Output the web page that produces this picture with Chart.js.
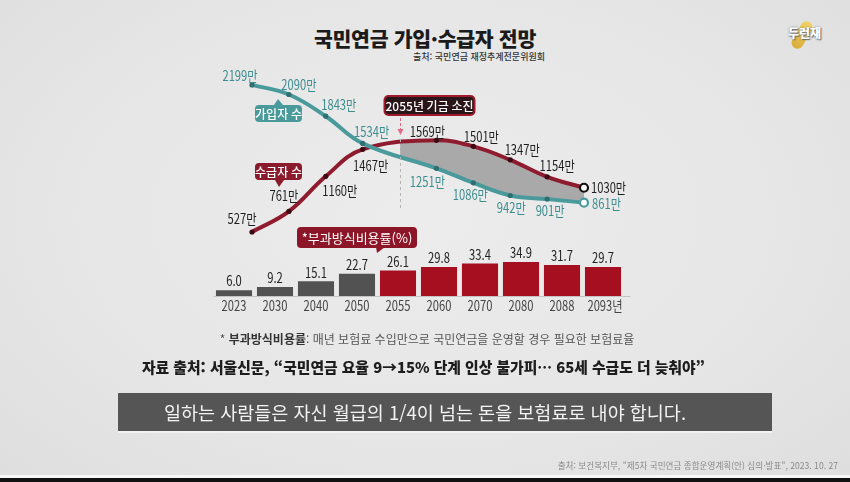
<!DOCTYPE html>
<html lang="ko">
<head>
<meta charset="utf-8">
<script src="https://cdn.jsdelivr.net/npm/chart.js@4"></script>
<style>
  html, body { margin: 0; padding: 0; }
  body {
    width: 850px; height: 482px; position: relative; overflow: hidden;
    background: radial-gradient(ellipse at 50% 45%, #ececec 0%, #e6e6e6 60%, #dedede 100%);
    font-family: 'Noto Sans CJK KR', sans-serif;
  }
  canvas { position: absolute; left: 0; top: 0; }
  .txt { position: absolute; white-space: nowrap; }
  #title { left: 0; width: 850px; top: 23px; text-align: center; font-size: 20.5px; font-weight: 900; color: #1b1b1b; letter-spacing: -0.3px; }
  #src1 { right: 305px; top: 50px; font-size: 9px; color: #333; font-weight: 500; }
  #note { left: 0; width: 854px; top: 330px; text-align: center; font-size: 12px; color: #555; }
  #note b { color: #333; }
  #news { left: 142px; top: 356px; font-size: 14.8px; font-weight: 900; color: #1d1d1d; }
  #bar { position: absolute; left: 118px; width: 654px; top: 393px; height: 38px; background: #555; border-bottom: 2px solid #f2f2f2; }
  #sub { left: 0; width: 850px; top: 399px; text-align: center; font-size: 18.5px; color: #f2f2f2; }
  #src2 { right: 12px; top: 459px; font-size: 8.6px; color: #8a8a8a; }
  #stripe { position: absolute; left: 0; top: 475px; width: 850px; height: 3px; background: #f7f7f7; }
  #foot { position: absolute; left: 0; top: 478px; width: 850px; height: 4px; background: #111; }
  #logo { position: absolute; left: 782px; top: 18px; width: 60px; height: 32px; }
  #logo .brush { position: absolute; left: 14px; top: 2px; width: 12px; height: 30px; background: linear-gradient(#f1d15a, #d9a626); transform: rotate(30deg); border-radius: 6px; opacity: 0.9; }
  #logo .name { position: absolute; left: 6px; top: 6px; font-size: 12px; font-weight: 900; color: #fff; text-shadow: 0 0 2px #777, 1px 1px 1px #666; }
</style>
</head>
<body>
<div id="logo"><div class="brush"></div><div class="name">두런재</div></div>
<div class="txt" id="title">국민연금 가입·수급자 전망</div>
<div class="txt" id="src1">출처: 국민연금 재정추계전문위원회</div>
<canvas id="barChart" width="850" height="482"></canvas>
<canvas id="lineChart" width="850" height="482"></canvas>
<div class="txt" id="note">* <b>부과방식비용률</b>: 매년 보험료 수입만으로 국민연금을 운영할 경우 필요한 보험료율</div>
<div class="txt" id="news">자료 출처: 서울신문, “국민연금 요율 9→15% 단계 인상 불가피… 65세 수급도 더 늦춰야”</div>
<div id="bar"></div>
<div class="txt" id="sub">일하는 사람들은 자신 월급의 1/4이 넘는 돈을 보험료로 내야 합니다.</div>
<div class="txt" id="src2">출처: 보건복지부, "제5차 국민연금 종합운영계획(안) 심의·발표", 2023. 10. 27</div>
<div id="stripe"></div>
<div id="foot"></div>
<script>
// --- dados ---
const years = ['2023', '2030', '2040', '2050', '2055', '2060', '2070', '2080', '2088', '2093'];
const yearLabels = ['2023', '2030', '2040', '2050', '2055', '2060', '2070', '2080', '2088', '2093년'];
const subscribers = [2199, 2090, 1843, 1534, null, 1251, 1086, 942, 901, 861];   // 가입자 수 (만)
const recipients = [527, 761, 1160, 1467, null, 1569, 1501, 1347, 1154, 1030];   // 수급자 수 (만)
const payGoRate = [6.0, 9.2, 15.1, 22.7, 26.1, 29.8, 33.4, 34.9, 31.7, 29.7];    // 부과방식비용률 (%)
const depletionYear = '2055';

// label offsets around each point (style, not data)
const subOffsets = [[-12, -9], [10, -10], [13, -12], [9, -12], null, [-9, 13], [-3, 12], [1, 12], [3, 12], [8, 1]];
const recOffsets = [[-10, -13], [-5, -16], [14, 14], [8, 16], null, [-9, -9], [8, -10], [12, -10], [10, -11], [7, 0]];

const NUM_FONT = "'Noto Sans CJK KR', sans-serif";
const NARROW = 0.8;
const TEAL = '#4a9a9c', TEAL_DARK = '#2f6f71', RED = '#8e1b2e', RED_DARK = '#3d0a13';
const GREY_BAR = '#525252', RED_BAR = '#a50f20';

// condensed text, like the narrow face of the original
function narrowText(ctx, text, x, y, align) {
    ctx.save();
    ctx.translate(x, y);
    ctx.scale(NARROW, 1);
    ctx.textAlign = align || 'center';
    ctx.fillText(text, 0, 0);
    ctx.restore();
}

function roundRect(ctx, x, y, w, h, r) {
    ctx.beginPath();
    ctx.moveTo(x + r, y);
    ctx.arcTo(x + w, y, x + w, y + h, r);
    ctx.arcTo(x + w, y + h, x, y + h, r);
    ctx.arcTo(x, y + h, x, y, r);
    ctx.arcTo(x, y, x + w, y, r);
    ctx.closePath();
}

function callout(ctx, x, y, w, h, text, fill, tip, stroke) {
    roundRect(ctx, x, y, w, h, 4);
    ctx.fillStyle = fill;
    ctx.fill();
    if (stroke) { ctx.strokeStyle = stroke; ctx.lineWidth = 2; ctx.stroke(); }
    if (tip) {
        ctx.beginPath();
        ctx.moveTo(tip[0] - 5, tip[1]);
        ctx.lineTo(tip[2], tip[3]);
        ctx.lineTo(tip[0] + 4, tip[1]);
        ctx.closePath();
        ctx.fillStyle = fill;
        ctx.fill();
    }
    ctx.fillStyle = '#fff';
    ctx.textAlign = 'center';
    ctx.textBaseline = 'middle';
    ctx.fillText(text, x + w / 2, y + h / 2 + 0.5);
}

// --- gráfico de barras ---
const barPlugin = {
    id: 'barDecor',
    afterDatasetsDraw(chart) {
        const ctx = chart.ctx, xs = chart.scales.x, ys = chart.scales.y;
        const area = chart.chartArea;
        ctx.save();
        ctx.strokeStyle = '#c4c4c4';
        ctx.lineWidth = 1;
        ctx.beginPath();
        ctx.moveTo(area.left, ys.getPixelForValue(0) + 0.5);
        ctx.lineTo(area.right + 7, ys.getPixelForValue(0) + 0.5);
        ctx.stroke();

        ctx.font = '14px ' + NUM_FONT;
        ctx.textBaseline = 'middle';
        payGoRate.forEach((v, i) => {
            const x = xs.getPixelForValue(i);
            ctx.fillStyle = '#222';
            narrowText(ctx, v.toFixed(1), x, ys.getPixelForValue(v) - 9);
            ctx.fillStyle = '#444';
            narrowText(ctx, yearLabels[i], x + (i === 9 ? 2 : 0), ys.getPixelForValue(0) + 10);
        });

        ctx.font = '13px "Noto Sans CJK KR", sans-serif';
        const tx = xs.getPixelForValue(years.indexOf(depletionYear)) - 15;
        callout(ctx, 297, 227, 120, 21, '*부과방식비용률(%)', '#8c1628', [tx - 2, 247, tx - 6, 253]);
        ctx.restore();
    }
};

new Chart(document.getElementById('barChart'), {
    type: 'bar',
    data: {
        labels: years,
        datasets: [{
            data: payGoRate,
            backgroundColor: years.map(y => Number(y) >= Number(depletionYear) ? RED_BAR : GREY_BAR),
            barPercentage: 0.88,
            categoryPercentage: 1.0,
            borderWidth: 0
        }]
    },
    options: {
        responsive: false,
        animation: false,
        layout: { padding: { left: 213.5, right: 226.5, top: 257, bottom: 186 } },
        plugins: { legend: { display: false }, tooltip: { enabled: false } },
        scales: {
            x: { display: false },
            y: { display: false, min: 0, max: 40 }
        }
    },
    plugins: [barPlugin]
});

// --- gráfico de linhas ---
function fillGradient(context) {
    const chart = context.chart;
    const area = chart.chartArea;
    if (!area || !chart.scales.x) return 'rgba(0,0,0,0)';
    const xd = chart.scales.x.getPixelForValue(years.indexOf(depletionYear));
    const g = chart.ctx.createLinearGradient(0, 0, chart.width, 0);
    const f = Math.min(Math.max(xd / chart.width, 0), 1);
    g.addColorStop(0, 'rgba(0,0,0,0)');
    g.addColorStop(f, 'rgba(0,0,0,0)');
    g.addColorStop(Math.min(f + 0.0005, 1), '#a9a9a9');
    g.addColorStop(1, '#a9a9a9');
    return g;
}

const lineLabels = {
    id: 'lineDecor',
    afterDatasetsDraw(chart) {
        const ctx = chart.ctx, xs = chart.scales.x, ys = chart.scales.y;
        ctx.save();
        ctx.font = '14px ' + NUM_FONT;
        ctx.textBaseline = 'middle';
        const draw = (vals, offs, color) => {
            vals.forEach((v, i) => {
                if (v === null) return;
                const x = xs.getPixelForValue(i), y = ys.getPixelForValue(v);
                const o = offs[i];
                ctx.fillStyle = color;
                narrowText(ctx, v + '만', x + o[0], y + o[1], i === vals.length - 1 ? 'left' : 'center');
            });
        };
        draw(subscribers, subOffsets, '#3d8c8f');
        draw(recipients, recOffsets, '#1e1e1e');

        // 2055 marker
        const xd = Math.round(xs.getPixelForValue(years.indexOf(depletionYear))) + 0.5;
        ctx.strokeStyle = '#b5b5b5';
        ctx.lineWidth = 1;
        ctx.setLineDash([3, 3]);
        ctx.beginPath();
        ctx.moveTo(xd, 139);
        ctx.lineTo(xd, 208);
        ctx.stroke();
        ctx.strokeStyle = '#e06b86';
        ctx.setLineDash([3, 2]);
        ctx.beginPath();
        ctx.moveTo(xd, 118);
        ctx.lineTo(xd, 130);
        ctx.stroke();
        ctx.setLineDash([]);
        ctx.fillStyle = '#e06b86';
        ctx.beginPath();
        ctx.moveTo(xd - 3, 129);
        ctx.lineTo(xd + 3, 129);
        ctx.lineTo(xd, 135);
        ctx.closePath();
        ctx.fill();

        ctx.font = '500 12px "Noto Sans CJK KR", sans-serif';
        callout(ctx, xd - 16, 96, 90, 19, '2055년 기금 소진', '#2a1618', null, '#9e1a2c');
        callout(ctx, 255, 105, 47, 17, '가입자 수', TEAL, [279, 105, 278, 99]);
        callout(ctx, 255, 163, 47, 17, '수급자 수', '#8a1a2c', [280, 180, 279, 187]);
        ctx.restore();
    }
};

const lastIdx = years.length - 1;
new Chart(document.getElementById('lineChart'), {
    type: 'line',
    data: {
        labels: years,
        datasets: [{
            label: '가입자 수',
            data: subscribers,
            borderColor: TEAL,
            borderWidth: 4,
            tension: 0.4,
            spanGaps: true,
            fill: false,
            pointRadius: years.map((_, i) => i === lastIdx ? 4 : 2.6),
            pointBackgroundColor: years.map((_, i) => i === lastIdx ? '#fff' : TEAL_DARK),
            pointBorderColor: years.map((_, i) => i === lastIdx ? TEAL : TEAL_DARK),
            pointBorderWidth: years.map((_, i) => i === lastIdx ? 2.2 : 0),
            clip: false
        }, {
            label: '수급자 수',
            data: recipients,
            borderColor: RED,
            borderWidth: 4,
            tension: 0.4,
            spanGaps: true,
            fill: { target: 0, below: 'rgba(0,0,0,0)' },
            backgroundColor: fillGradient,
            pointRadius: years.map((_, i) => i === lastIdx ? 4 : 2.6),
            pointBackgroundColor: years.map((_, i) => i === lastIdx ? '#fff' : RED_DARK),
            pointBorderColor: years.map((_, i) => i === lastIdx ? '#111' : RED_DARK),
            pointBorderWidth: years.map((_, i) => i === lastIdx ? 2.2 : 0),
            clip: false
        }]
    },
    options: {
        responsive: false,
        animation: false,
        layout: { padding: { left: 252, right: 266, top: 76, bottom: 230 } },
        plugins: {
            legend: { display: false },
            tooltip: { enabled: false },
            filler: { drawTime: 'beforeDatasetsDraw' }
        },
        scales: {
            x: { display: false, offset: false },
            y: { display: false, min: 300, max: 2300 }
        }
    },
    plugins: [lineLabels]
});
</script>
</body>
</html>
